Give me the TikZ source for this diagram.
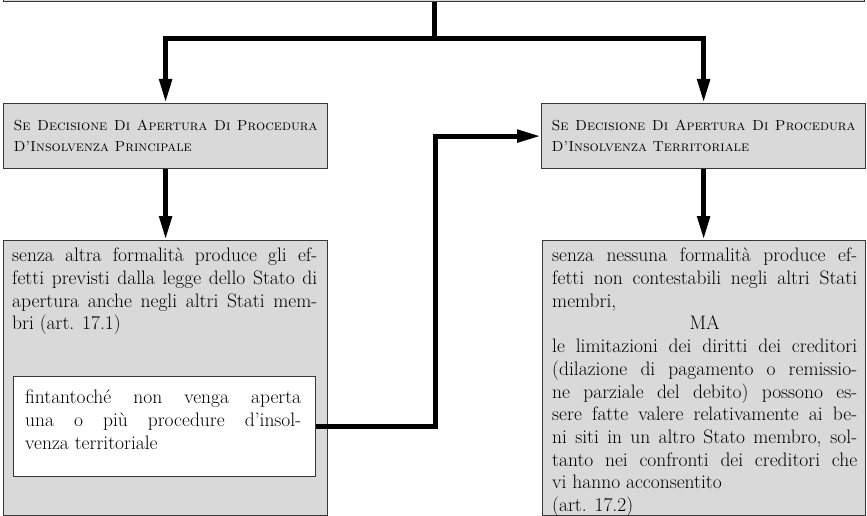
\documentclass[tikz,border=0pt]{standalone}
\usepackage{tikz}
\usetikzlibrary{arrows.meta,positioning}
\definecolor{boxgrey}{RGB}{217,217,217}
\definecolor{edgegrey}{RGB}{55,55,55}
\tikzset{
	greybox/.style={draw=edgegrey, fill=boxgrey, line width=1.2pt, inner sep=0pt},
	whitebox/.style={draw=edgegrey, fill=white, line width=1.2pt, inner sep=0pt},
	headtext/.style={align=justify, text width=304pt, inner xsep=10pt, inner ysep=0pt, font=\fontsize{14.5}{21}\selectfont},
	bodytext/.style={align=justify, text width=305pt, inner sep=0pt, font=\fontsize{19.5}{22.7}\selectfont},
	fatline/.style={line width=5pt},
	fatarrow/.style={-{Triangle[length=24pt,width=12pt]}, line width=5pt}
}

\begin{document}
\begin{tikzpicture}[x=1pt, y=-1pt]
	\useasboundingbox (0,0) rectangle (867,516);
	% box above, cut off by the page
	\node[greybox, minimum width=861pt, minimum height=40pt, anchor=south west] (decision) at (3,2) {};
	
	% first level
	\node[greybox, headtext, minimum height=65pt, anchor=north west] (princ) at (3,103)
	{\textsc{Se Decisione Di Apertura Di Procedura\linebreak D'Insolvenza Principale}};
	\node[greybox, headtext, minimum height=65pt, anchor=north west] (terr) at (541,103)
	{\textsc{Se Decisione Di Apertura Di Procedura\linebreak D'Insolvenza Territoriale}};
	
	% second level
	\node[greybox, minimum width=324pt, minimum height=275pt, anchor=north west] (effprinc) at (3,240) {};
	\node[greybox, minimum width=323pt, minimum height=275pt, anchor=north west] (effterr) at (542,240) {};
	\node[whitebox, minimum width=302pt, minimum height=100pt, anchor=north west] (until) at (13,376) {};
	
	\node[bodytext, below right=8pt and 9pt of effprinc.north west] (effprinctext)
	{senza altra formalità produce gli ef-\linebreak
		fetti previsti dalla legge dello Stato di\linebreak
		apertura anche negli altri Stati mem-\linebreak
		bri (art. 17.1)};
	\node[bodytext, text width=276pt, below right=14pt and 12pt of until.north west] (untiltext)
	{fintantoché non venga aperta\linebreak
		una o più procedure d'insol-\linebreak
		venza territoriale};
	\node[bodytext, below right=8pt and 10pt of effterr.north west] (effterrtext)
	{senza nessuna formalità produce ef-\linebreak
		fetti non contestabili negli altri Stati\linebreak
		membri,\par
		\centerline{MA}
		le limitazioni dei diritti dei creditori\linebreak
		(dilazione di pagamento o remissio-\linebreak
		ne parziale del debito) possono es-\linebreak
		sere fatte valere relativamente ai be-\linebreak
		ni siti in un altro Stato membro, sol-\linebreak
		tanto nei confronti dei creditori che\linebreak
		vi hanno acconsentito\par
		(art. 17.2)};
	
	% connectors
	\draw[fatline] (decision.south) -- ++(0,37) coordinate (split);
	\draw[fatarrow] (split) -| (princ.north);
	\draw[fatarrow] (split) -| (terr.north);
	\draw[fatarrow] (princ.south) -- (effprinc.north);
	\draw[fatarrow] (terr.south) -- (terr.south |- effterr.north);
	\draw[fatarrow] (until.east) -- ++(119,0) |- (terr.west);
\end{tikzpicture}
\end{document}
